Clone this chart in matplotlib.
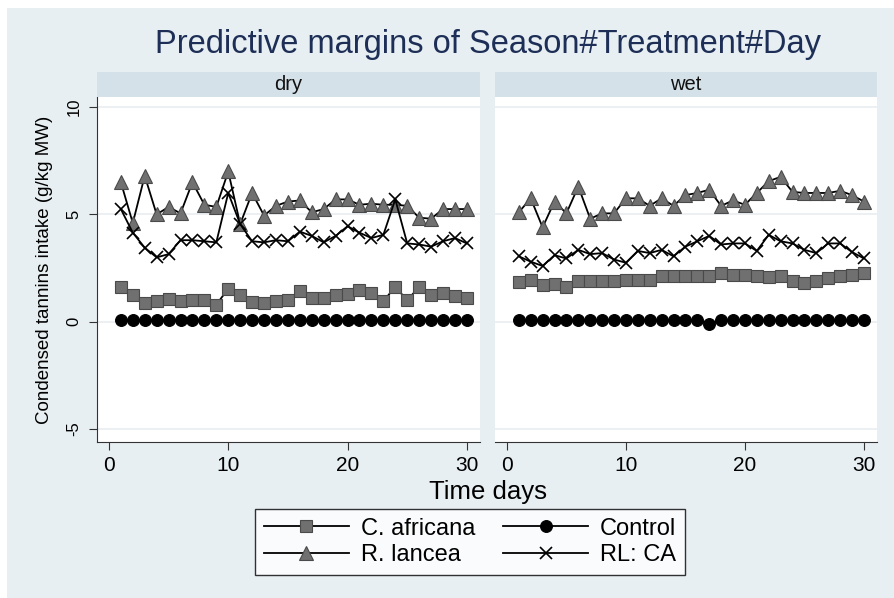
import matplotlib.pyplot as plt
import matplotlib.patches as mpatches
from matplotlib.lines import Line2D

plt.rcParams['font.family'] = ['Liberation Sans', 'DejaVu Sans']
plt.rcParams['axes.unicode_minus'] = False

days = list(range(1, 31))

# dry season
ca_dry = [1.63, 1.27, 0.88, 0.96, 1.07, 0.96, 1.0, 1.0, 0.8, 1.54,
          1.27, 0.92, 0.88, 0.96, 1.0, 1.43, 1.12, 1.12, 1.27, 1.3,
          1.46, 1.35, 0.96, 1.63, 1.0, 1.63, 1.27, 1.35, 1.2, 1.12]
rl_dry = [6.5, 4.6, 6.8, 5.0, 5.35, 5.05, 6.5, 5.45, 5.35, 7.0,
          4.55, 6.0, 4.95, 5.4, 5.6, 5.65, 5.1, 5.25, 5.7, 5.7,
          5.45, 5.5, 5.45, 5.45, 5.4, 4.85, 4.8, 5.25, 5.25, 5.25]
rlca_dry = [5.25, 4.15, 3.45, 3.0, 3.15, 3.8, 3.8, 3.75, 3.7, 6.0,
            4.55, 3.75, 3.7, 3.8, 3.75, 4.2, 4.0, 3.7, 4.0, 4.45,
            4.15, 3.9, 4.05, 5.7, 3.65, 3.6, 3.5, 3.75, 3.9, 3.65]
ctrl_dry = [0.08] * 30

# wet season
ca_wet = [1.85, 1.94, 1.7, 1.74, 1.63, 1.9, 1.9, 1.9, 1.9, 1.94,
          1.94, 1.94, 2.13, 2.13, 2.13, 2.13, 2.13, 2.28, 2.2, 2.2,
          2.13, 2.1, 2.13, 1.9, 1.8, 1.9, 2.05, 2.13, 2.2, 2.25]
rl_wet = [5.1, 5.75, 4.4, 5.6, 5.05, 6.3, 4.8, 5.05, 5.05, 5.75,
          5.75, 5.4, 5.75, 5.4, 5.9, 6.0, 6.15, 5.4, 5.65, 5.45,
          6.0, 6.55, 6.75, 6.05, 6.0, 6.0, 6.0, 6.1, 5.9, 5.6]
rlca_wet = [3.05, 2.8, 2.6, 3.1, 2.95, 3.35, 3.15, 3.2, 2.9, 2.75,
            3.3, 3.2, 3.35, 3.05, 3.5, 3.75, 4.0, 3.6, 3.65, 3.65,
            3.3, 4.05, 3.75, 3.65, 3.35, 3.2, 3.65, 3.65, 3.25, 2.95]
ctrl_wet = [0.08] * 16 + [-0.12] + [0.08] * 13

seasons = ['dry', 'wet']
series = {
    'dry': [ca_dry, rl_dry, ctrl_dry, rlca_dry],
    'wet': [ca_wet, rl_wet, ctrl_wet, rlca_wet],
}
labels = ['C. africana', 'R. lancea', 'Control', 'RL: CA']

bg = '#e8eff2'
strip_col = '#d5e1e9'
gray = '#707070'

styles = [
    dict(marker='s', ms=8.5, mfc=gray, mec='#4a4a4a', mew=0.8),
    dict(marker='^', ms=9.5, mfc=gray, mec='#4a4a4a', mew=0.8),
    dict(marker='o', ms=8.5, mfc='black', mec='black', mew=0.8),
    dict(marker='x', ms=8, mfc='black', mec='black', mew=1.2),
]

fig = plt.figure(figsize=(8.95, 5.98), dpi=100, facecolor='white')
fig.patches.append(mpatches.Rectangle((7 / 895, 0), 1, 1 - 8 / 598,
                                      transform=fig.transFigure,
                                      facecolor=bg, edgecolor='none', zorder=-10))

W, H = 895, 598
panels = [(97, 480), (495, 877)]
top, bottom = 97, 442

for i, season in enumerate(seasons):
    x0, x1 = panels[i]
    ax = fig.add_axes([x0 / W, 1 - bottom / H, (x1 - x0) / W, (bottom - top) / H])
    ax.set_facecolor('white')
    for vals, st in zip(series[season], styles):
        ax.plot(days, vals, color='black', lw=1.3, **st)
    ax.set_xlim(-1, 31.1)
    ax.set_ylim(-5.6, 10.47)
    ax.set_yticks([-5, 0, 5, 10])
    ax.set_xticks([0, 10, 20, 30])
    ax.yaxis.grid(True, color='#e9eef1', lw=1.2)
    ax.set_axisbelow(True)
    for s in ['top', 'right']:
        ax.spines[s].set_visible(False)
    ax.spines['bottom'].set_color('#333333')
    ax.tick_params(axis='x', length=6, color='#333333', labelsize=15, pad=4)
    if i == 0:
        ax.spines['left'].set_color('#333333')
        ax.tick_params(axis='y', length=6, color='#333333', labelsize=12,
                       labelrotation=90, pad=5)
        for t in ax.get_yticklabels():
            t.set_va('center')
        ax.set_ylabel('Condensed tannins intake (g/kg MW)', fontsize=13.5, labelpad=10)
    else:
        ax.spines['left'].set_visible(False)
        ax.tick_params(axis='y', left=False, labelleft=False)

    # facet strip
    sax = fig.add_axes([x0 / W, 1 - top / H, (x1 - x0) / W, 25 / H])
    sax.set_facecolor(strip_col)
    sax.set_xticks([])
    sax.set_yticks([])
    for s in sax.spines.values():
        s.set_visible(False)
    sax.text(0.5, 0.5, season, ha='center', va='center', fontsize=14.5,
             color='#111111', transform=sax.transAxes)

fig.text(488 / W, 1 - 45 / H, 'Predictive margins of Season#Treatment#Day',
         ha='center', va='center', fontsize=23.5, color='#1e2f57')
fig.text(488 / W, 1 - 492 / H, 'Time days', ha='center', va='center', fontsize=18.5)

handles = [Line2D([], [], color='black', lw=1.3, **st) for st in styles]
leg = fig.legend(handles, labels, loc='center', ncol=2,
                 bbox_to_anchor=(470 / W, 1 - 542 / H), fontsize=17,
                 frameon=True, fancybox=False, edgecolor='black',
                 handlelength=3.6, columnspacing=1.2, handletextpad=0.5,
                 borderpad=0.35, labelspacing=0.2)
leg.get_frame().set_linewidth(1.0)

fig.savefig('out.png', dpi=100, facecolor=fig.get_facecolor())
